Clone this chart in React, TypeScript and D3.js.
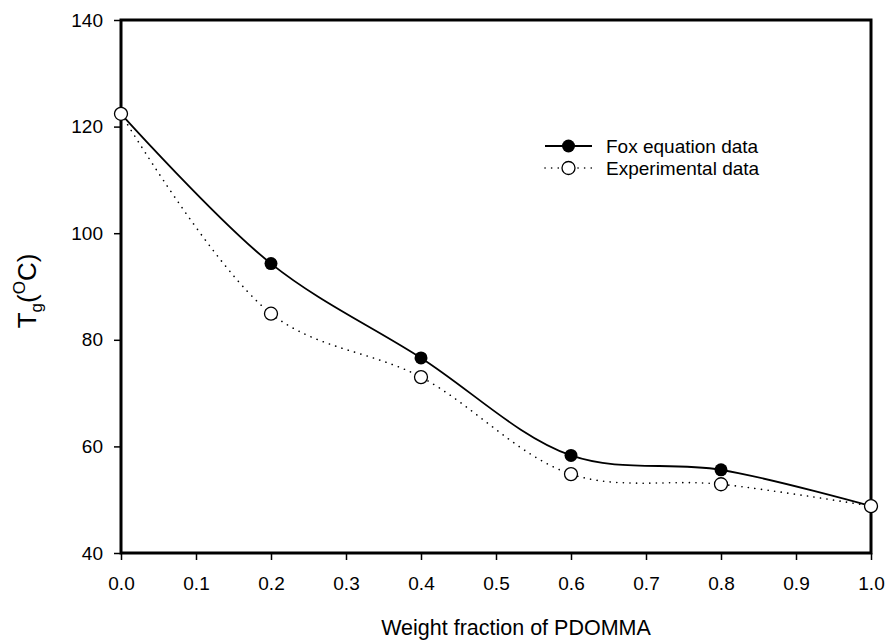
import { useEffect, useRef } from 'react'
import * as d3 from 'd3'

const fractions = [0.0, 0.2, 0.4, 0.6, 0.8, 1.0]
const foxTg = [122.4, 94.3, 76.6, 58.3, 55.6, 48.8]
const expTg = [122.4, 84.9, 73.0, 54.8, 52.9, 48.8]
const xTicks = [0, 0.1, 0.2, 0.3, 0.4, 0.5, 0.6, 0.7, 0.8, 0.9, 1.0]
const yTicks = [40, 60, 80, 100, 120, 140]

const W = 887
const H = 641
const FONT = 'Liberation Sans, Arial, sans-serif'

export default function App() {
  const svgRef = useRef<SVGSVGElement | null>(null)

  useEffect(() => {
    if (!svgRef.current) return
    const svg = d3.select(svgRef.current)
    svg.selectAll('*').remove()

    const margin = { top: 20, right: 16, bottom: 88, left: 121 }
    const innerW = W - margin.left - margin.right
    const innerH = H - margin.top - margin.bottom

    const g = svg.append('g').attr('transform', `translate(${margin.left},${margin.top})`)

    const x = d3.scaleLinear().domain([0, 1]).range([0, innerW])
    const y = d3.scaleLinear().domain([40, 140]).range([innerH, 0])

    // Axes
    const yAxis = g.append('g')
      .call(d3.axisLeft(y).tickValues(yTicks).tickSize(7).tickPadding(11).tickFormat(d3.format('d')))
    const xAxis = g.append('g')
      .attr('transform', `translate(0,${innerH})`)
      .call(d3.axisBottom(x).tickValues(xTicks).tickSize(7).tickPadding(17).tickFormat(d3.format('.1f')))

    for (const ax of [xAxis, yAxis]) {
      ax.select('.domain').remove()
      ax.selectAll('.tick line').attr('stroke', '#000').attr('stroke-width', 1.5)
      ax.selectAll('.tick text').attr('fill', '#000').attr('font-size', 19).attr('font-family', FONT)
    }

    // Frame
    g.append('rect')
      .attr('x', 0).attr('y', 0)
      .attr('width', innerW).attr('height', innerH)
      .attr('fill', 'none')
      .attr('stroke', '#000')
      .attr('stroke-width', 3)

    const pts = (vals: number[]) => fractions.map((f, i) => [x(f), y(vals[i])] as [number, number])
    const line = d3.line().curve(d3.curveCatmullRom.alpha(0.5))

    // Experimental (dotted)
    g.append('path')
      .attr('d', line(pts(expTg)))
      .attr('fill', 'none')
      .attr('stroke', '#000')
      .attr('stroke-width', 1.6)
      .attr('stroke-linecap', 'round')
      .attr('stroke-dasharray', '0.1,6.5')

    // Fox (solid)
    g.append('path')
      .attr('d', line(pts(foxTg)))
      .attr('fill', 'none')
      .attr('stroke', '#000')
      .attr('stroke-width', 1.8)

    g.selectAll('circle.fox')
      .data(fractions)
      .join('circle')
      .attr('class', 'fox')
      .attr('cx', d => x(d))
      .attr('cy', (d, i) => y(foxTg[i]))
      .attr('r', 6.5)
      .attr('fill', '#000')

    g.selectAll('circle.exp')
      .data(fractions)
      .join('circle')
      .attr('class', 'exp')
      .attr('cx', d => x(d))
      .attr('cy', (d, i) => y(expTg[i]))
      .attr('r', 6.5)
      .attr('fill', '#fff')
      .attr('stroke', '#000')
      .attr('stroke-width', 1.3)

    // Legend
    const lg = svg.append('g').attr('transform', 'translate(545,146)')
    lg.append('line').attr('x1', 0).attr('x2', 47).attr('y1', 0).attr('y2', 0)
      .attr('stroke', '#000').attr('stroke-width', 1.8)
    lg.append('circle').attr('cx', 23.5).attr('cy', 0).attr('r', 6.5).attr('fill', '#000')
    lg.append('text').attr('x', 61).attr('y', 0).attr('dy', '0.35em')
      .attr('font-size', 19).attr('font-family', FONT).text('Fox equation data')

    lg.append('line').attr('x1', 0).attr('x2', 47).attr('y1', 22).attr('y2', 22)
      .attr('stroke', '#000').attr('stroke-width', 1.6)
      .attr('stroke-linecap', 'round').attr('stroke-dasharray', '0.1,6.5')
    lg.append('circle').attr('cx', 23.5).attr('cy', 22).attr('r', 6.5)
      .attr('fill', '#fff').attr('stroke', '#000').attr('stroke-width', 1.3)
    lg.append('text').attr('x', 61).attr('y', 22).attr('dy', '0.35em')
      .attr('font-size', 19).attr('font-family', FONT).text('Experimental data')

    // X label
    svg.append('text')
      .attr('x', 516)
      .attr('y', 635)
      .attr('text-anchor', 'middle')
      .attr('font-size', 21.5)
      .attr('font-family', FONT)
      .text('Weight fraction of PDOMMA')

    // Y label: T_g(°C)
    const yl = svg.append('text')
      .attr('transform', 'translate(36,291) rotate(-90)')
      .attr('text-anchor', 'middle')
      .attr('font-size', 26)
      .attr('font-family', FONT)
    yl.append('tspan').text('T')
    yl.append('tspan').attr('font-size', 17).attr('dy', 6).text('g')
    yl.append('tspan').attr('dy', -6).text('(')
    yl.append('tspan').attr('font-size', 17).attr('dy', -11).text('O')
    yl.append('tspan').attr('dy', 11).text('C)')
  }, [])

  return (
    <svg ref={svgRef} width={W} height={H} style={{ display: 'block', position: 'absolute', left: 0, top: 0, background: '#fff' }} />
  )
}
